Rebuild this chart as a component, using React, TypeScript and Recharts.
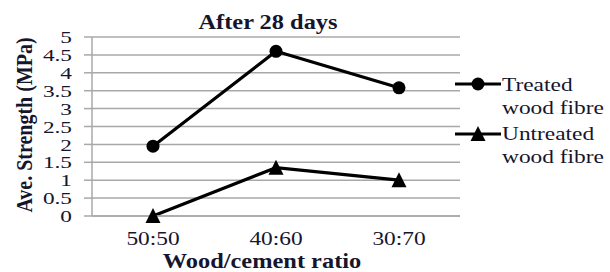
import React from 'react';
import { LineChart, Line, XAxis, YAxis, CartesianGrid } from 'recharts';

const categories = ['50:50', '40:60', '30:70'];
const treatedValues = [1.95, 4.6, 3.58];
const untreatedValues = [0, 1.35, 1.0];
const yTicks = [0, 0.5, 1, 1.5, 2, 2.5, 3, 3.5, 4, 4.5, 5];
const titleText = 'After 28 days';
const xLabelText = 'Wood/cement ratio';
const yLabelText = 'Ave. Strength (MPa)';
const legendLabels = [['Treated', 'wood fibre'], ['Untreated', 'wood fibre']];

const data = categories.map((c, i) => ({
  cat: c,
  treated: treatedValues[i],
  untreated: untreatedValues[i],
}));

const FONT = '"Liberation Serif", "Times New Roman", serif';
const TEXT = '#15152e';
const GRID = '#a8a8a8';

const YTick = (props: any) => {
  const { x, y, payload } = props;
  return (
    <text
      transform={`translate(${x},${y}) scale(1.37,1)`}
      textAnchor="end"
      dy="0.36em"
      fontFamily={FONT}
      fontSize={17}
      fill={TEXT}
    >
      {String(payload.value)}
    </text>
  );
};

const XTick = (props: any) => {
  const { x, y, payload } = props;
  return (
    <text
      transform={`translate(${x},${y + 29}) scale(1.3,1)`}
      textAnchor="middle"
      fontFamily={FONT}
      fontSize={18}
      fill={TEXT}
    >
      {payload.value}
    </text>
  );
};

const CircleDot = (props: any) => {
  const { cx, cy, index } = props;
  return <circle key={`c${index}`} cx={cx} cy={cy} r={6.5} fill="#000" />;
};

const TriDot = (props: any) => {
  const { cx, cy, index } = props;
  return (
    <path
      key={`t${index}`}
      d={`M${cx},${cy - 8} L${cx - 7.5},${cy + 7} L${cx + 7.5},${cy + 7} Z`}
      fill="#000"
    />
  );
};

export default function App() {
  return (
    <div style={{ position: 'absolute', left: 0, top: 0, width: 610, height: 272, background: '#fff' }}>
      <LineChart
        width={610}
        height={272}
        data={data}
        margin={{ top: 37, right: 150, bottom: 0, left: 0 }}
      >
        <CartesianGrid vertical={false} stroke={GRID} strokeWidth={1.5} />
        <XAxis
          dataKey="cat"
          padding={{ left: 61, right: 61 }}
          height={56}
          tickLine={false}
          tickSize={0}
          tickMargin={0}
          axisLine={{ stroke: GRID, strokeWidth: 1.5 }}
          tick={<XTick />}
          interval={0}
        />
        <YAxis
          width={92}
          domain={[0, 5]}
          ticks={yTicks}
          interval={0}
          tickSize={8}
          tickMargin={12}
          tickLine={{ stroke: GRID, strokeWidth: 1.5 }}
          axisLine={{ stroke: GRID, strokeWidth: 1.5 }}
          tick={<YTick />}
        />
        <Line
          dataKey="treated"
          stroke="#000"
          strokeWidth={3.2}
          dot={CircleDot}
          isAnimationActive={false}
        />
        <Line
          dataKey="untreated"
          stroke="#000"
          strokeWidth={3.2}
          dot={TriDot}
          isAnimationActive={false}
        />
      </LineChart>
      <svg
        width={610}
        height={272}
        style={{ position: 'absolute', left: 0, top: 0, pointerEvents: 'none' }}
      >
        <text
          transform="translate(268,29) scale(1.22,1)"
          textAnchor="middle"
          fontFamily={FONT}
          fontWeight="bold"
          fontSize={20}
          fill={TEXT}
        >
          {titleText}
        </text>
        <text
          transform="translate(262,268) scale(1.22,1)"
          textAnchor="middle"
          fontFamily={FONT}
          fontWeight="bold"
          fontSize={20}
          fill={TEXT}
        >
          {xLabelText}
        </text>
        <text
          transform="translate(32,125) rotate(-90) scale(1,1.2)"
          textAnchor="middle"
          fontFamily={FONT}
          fontWeight="bold"
          fontSize={20}
          fill={TEXT}
        >
          {yLabelText}
        </text>
        {/* legend */}
        <line x1={455} y1={84} x2={501} y2={84} stroke="#000" strokeWidth={3.2} />
        <circle cx={478} cy={84} r={6.5} fill="#000" />
        <line x1={455} y1={134} x2={501} y2={134} stroke="#000" strokeWidth={3.2} />
        <path d="M478,126 L470.5,141 L485.5,141 Z" fill="#000" />
        {legendLabels.map((lines, i) =>
          lines.map((t, j) => (
            <text
              key={`${i}-${j}`}
              transform={`translate(502,${91 + i * 49 + j * 23}) scale(1.3,1)`}
              fontFamily={FONT}
              fontSize={18}
              fill={TEXT}
            >
              {t}
            </text>
          ))
        )}
      </svg>
    </div>
  );
}
